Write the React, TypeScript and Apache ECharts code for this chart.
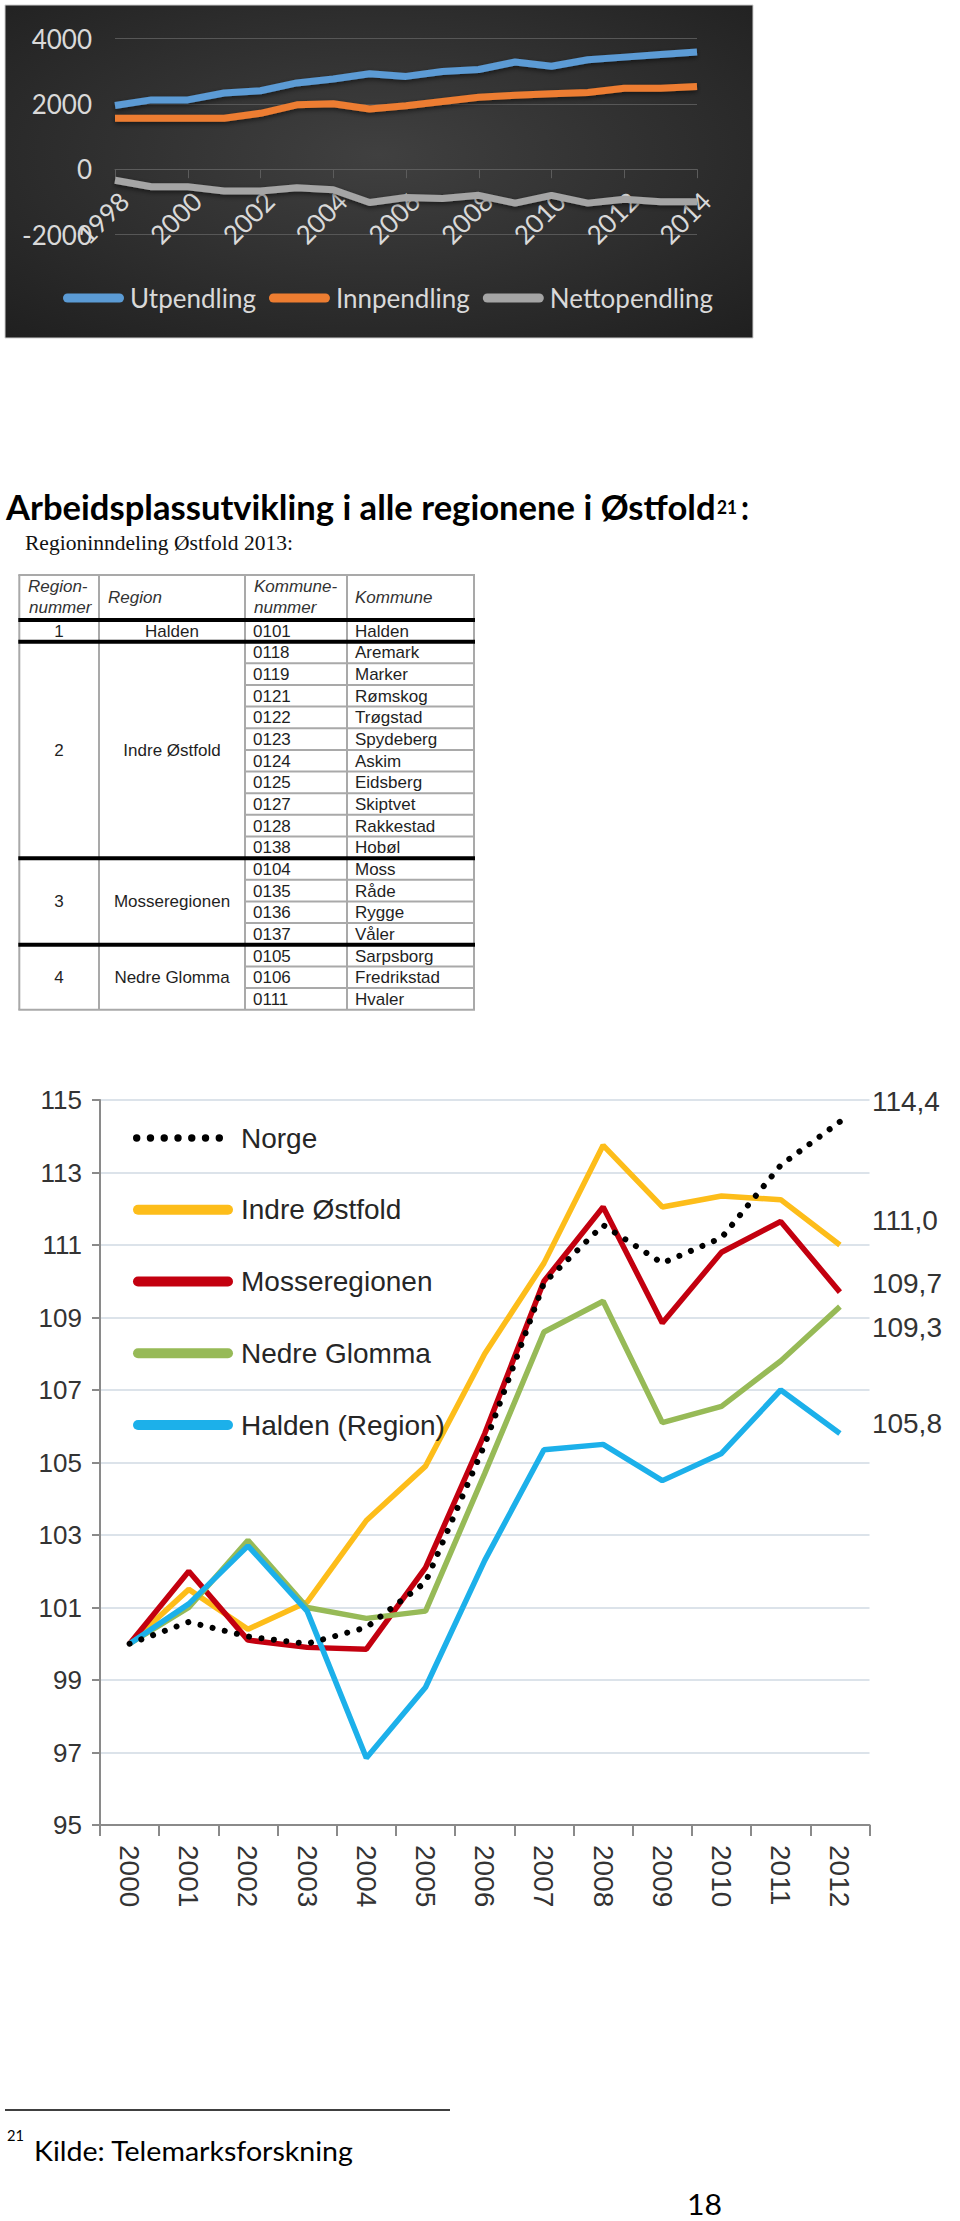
import React, { useEffect, useRef } from 'react';
import * as echarts from 'echarts';

// ---------- Data: commuting chart (top) ----------
const commuteYears = ['1998', '1999', '2000', '2001', '2002', '2003', '2004', '2005', '2006', '2007', '2008', '2009', '2010', '2011', '2012', '2013', '2014'];
const utpendling = [1950, 2120, 2120, 2330, 2400, 2640, 2760, 2920, 2840, 2990, 3050, 3280, 3150, 3350, 3430, 3510, 3590];
const innpendling = [1560, 1560, 1560, 1560, 1710, 1970, 2000, 1840, 1940, 2070, 2200, 2260, 2310, 2350, 2480, 2480, 2530];
const nettopendling = [-340, -540, -540, -670, -670, -570, -630, -1020, -870, -900, -800, -1040, -800, -1040, -920, -1000, -1000];

// ---------- Data: region table ----------
const tableHeaders = [['Region-', 'nummer'], ['Region'], ['Kommune-', 'nummer'], ['Kommune']];
const regionNumbers = ['1', '2', '3', '4'];
const regionNames = ['Halden', 'Indre Østfold', 'Mosseregionen', 'Nedre Glomma'];
const municipalities: string[][][] = [
  [['0101', 'Halden']],
  [['0118', 'Aremark'], ['0119', 'Marker'], ['0121', 'Rømskog'], ['0122', 'Trøgstad'], ['0123', 'Spydeberg'], ['0124', 'Askim'], ['0125', 'Eidsberg'], ['0127', 'Skiptvet'], ['0128', 'Rakkestad'], ['0138', 'Hobøl']],
  [['0104', 'Moss'], ['0135', 'Råde'], ['0136', 'Rygge'], ['0137', 'Våler']],
  [['0105', 'Sarpsborg'], ['0106', 'Fredrikstad'], ['0111', 'Hvaler']],
];

// ---------- Data: job index chart (bottom) ----------
const indexYears = ['2000', '2001', '2002', '2003', '2004', '2005', '2006', '2007', '2008', '2009', '2010', '2011', '2012'];
const norge = [100, 100.6, 100.2, 100.0, 100.45, 101.7, 105.5, 109.95, 111.55, 110.5, 111.2, 113.2, 114.4];
const indreOstfold = [100, 101.5, 100.4, 101.15, 103.4, 104.9, 108.0, 110.5, 113.75, 112.05, 112.35, 112.25, 111.0];
const mosseregionen = [100, 102.0, 100.1, 99.9, 99.85, 102.1, 105.8, 110.0, 112.05, 108.85, 110.8, 111.65, 109.7];
const nedreGlomma = [100, 101.0, 102.85, 101.0, 100.7, 100.9, 104.7, 108.6, 109.45, 106.1, 106.55, 107.8, 109.3];
const halden = [100, 101.1, 102.7, 100.9, 96.85, 98.8, 102.3, 105.35, 105.5, 104.5, 105.25, 107.0, 105.8];

// ---------- helpers ----------
function textWidth(text: string, font: string): number {
  const ctx = document.createElement('canvas').getContext('2d');
  if (!ctx) return text.length * 10;
  ctx.font = font;
  return ctx.measureText(text).width || 1;
}

function fitText(text: string, x: number, y: number, size: number, family: string, weight: string, target: number, fill: string, style: string = 'normal') {
  const w = textWidth(text, `${style} ${weight} ${size}px "${family}"`);
  return {
    type: 'text', x, y, scaleX: target / w,
    style: { text, fontSize: size, fontFamily: family, fontWeight: weight, fontStyle: style, fill, textAlign: 'left', textVerticalAlign: 'middle' },
  };
}

function capsule(w: number, h: number) {
  const r = h / 2;
  return `path://M${r},0 L${w - r},0 A${r},${r} 0 0 1 ${w - r},${h} L${r},${h} A${r},${r} 0 0 1 ${r},0 Z`;
}

function dotsIcon() {
  let d = 'path://M0,0 L0,0 ';
  const r = 3.7;
  for (let i = 0; i < 7; i++) {
    const cx = r + i * ((90 - 2 * r) / 6);
    d += `M${cx - r},5 A${r},${r} 0 1 0 ${cx + r},5 A${r},${r} 0 1 0 ${cx - r},5 Z `;
  }
  d += 'M100,10 L100,10';
  return d;
}

const fmt = (v: number) => v.toFixed(1).replace('.', ',');

function buildTable(): any[] {
  const els: any[] = [];
  const colX = [19.3, 99, 245, 347, 474];
  const top = 575;
  const headH = 45;
  const rowH = 21.65;
  const grey = '#a9a9a9';
  const txt = '#1f1f1f';
  const font = 'Liberation Sans';
  const textEl = (text: string, x: number, y: number, align: string, italic = false) => ({
    type: 'text', x, y, z: 5,
    style: { text, fontSize: 17, fontFamily: font, fontStyle: italic ? 'italic' : 'normal', fill: italic ? '#333' : txt, textAlign: align, textVerticalAlign: 'middle' },
  });
  const line = (x1: number, y1: number, x2: number, y2: number, stroke: string, w: number, z = 3) => ({
    type: 'line', z, shape: { x1, y1, x2, y2 }, style: { stroke, lineWidth: w },
  });

  const headX = [28, 108, 254, 355];
  tableHeaders.forEach((lines, i) => {
    if (lines.length === 2) {
      els.push(textEl(lines[0], headX[i], top + 11.5, 'left', true));
      els.push(textEl(lines[1], headX[i] + (i === 0 ? 1 : 0), top + 32.5, 'left', true));
    } else {
      els.push(textEl(lines[0], headX[i], top + 22, 'left', true));
    }
  });

  let y = top + headH;
  const thick: number[] = [y];
  regionNames.forEach((name, gi) => {
    const rows = municipalities[gi];
    const gTop = y;
    rows.forEach((r, j) => {
      const rTop = gTop + j * rowH;
      const cy = rTop + rowH / 2 + 0.5;
      els.push(textEl(r[0], 253, cy, 'left'));
      els.push(textEl(r[1], 355, cy, 'left'));
      if (j > 0) els.push(line(colX[2], rTop, colX[4], rTop, grey, 2));
    });
    const gBottom = gTop + rows.length * rowH;
    const mid = (gTop + gBottom) / 2 + 0.5;
    els.push(textEl(regionNumbers[gi], 59, mid, 'center'));
    els.push(textEl(name, 172, mid, 'center'));
    if (gi < regionNames.length - 1) thick.push(gBottom);
    y = gBottom;
  });
  const bottom = y;
  colX.forEach((x) => els.push(line(x, top, x, bottom, grey, 2)));
  els.push(line(colX[0] - 1, top, colX[4] + 1, top, grey, 2));
  els.push(line(colX[0] - 1, bottom, colX[4] + 1, bottom, grey, 2));
  thick.forEach((ty) => els.push(line(colX[0] - 1, ty, colX[4] + 1, ty, '#000', 4, 4)));
  return els;
}

export default function App() {
  const ref = useRef<HTMLDivElement>(null);

  useEffect(() => {
    if (!ref.current) return;
    const chart = echarts.init(ref.current, null, { renderer: 'svg' });

    const darkText = '#d9d9d9';
    const lato = 'Lato';
    const arial = 'Liberation Sans';

    const graphics: any[] = [
      {
        type: 'rect', z: -10, shape: { x: 5, y: 5, width: 748, height: 333 },
        style: {
          fill: { type: 'radial', x: 0.5, y: 0.45, r: 0.75, colorStops: [{ offset: 0, color: '#404040' }, { offset: 1, color: '#1f1f1f' }] },
          stroke: '#cfcfcf', lineWidth: 1,
        },
      },
      fitText('Arbeidsplassutvikling i alle regionene i Østfold', 6, 507, 34, lato, 'bold', 710, '#000'),
      fitText('21', 717, 507, 18, lato, 'bold', 20, '#000'),
      fitText(':', 741, 507, 34, lato, 'bold', 8, '#000'),
      fitText('Regioninndeling Østfold 2013:', 25, 543, 21, 'Liberation Serif', 'normal', 268, '#111'),
      { type: 'line', shape: { x1: 5, y1: 2110, x2: 450, y2: 2110 }, style: { stroke: '#000', lineWidth: 1.5 } },
      fitText('21', 7, 2135, 16, lato, 'normal', 17, '#000'),
      fitText('Kilde: Telemarksforskning', 34, 2151, 26, lato, 'normal', 320, '#000'),
      fitText('18', 687, 2204, 28, lato, 'normal', 35, '#000'),
      ...buildTable(),
    ];

    const indexSeries = [
      { name: 'Indre Østfold', data: indreOstfold, color: '#fdbd1a', dy: -25 },
      { name: 'Mosseregionen', data: mosseregionen, color: '#c3000f', dy: -9 },
      { name: 'Nedre Glomma', data: nedreGlomma, color: '#97ba57', dy: 21 },
      { name: 'Halden (Region)', data: halden, color: '#1cb0ea', dy: -10 },
    ];

    const option: any = {
      animation: false,
      grid: [
        { left: 115, top: 38.5, width: 582, height: 196, containLabel: false },
        { left: 100, top: 1100, width: 769.5, height: 725, containLabel: false },
      ],
      xAxis: [
        {
          gridIndex: 0, type: 'category', data: commuteYears, boundaryGap: false,
          offset: -65.3,
          axisLine: { show: true, onZero: false, lineStyle: { color: '#5c5c5c', width: 1 } },
          axisTick: { show: true, interval: 1, length: 9, lineStyle: { color: '#5c5c5c' } },
          axisLabel: { interval: 1, rotate: 45, margin: 18, color: darkText, fontFamily: lato, fontSize: 26, verticalAlign: 'top' },
          splitLine: { show: false },
        },
        {
          gridIndex: 1, type: 'category', data: indexYears, boundaryGap: true,
          axisLine: { show: true, lineStyle: { color: '#8a8a8a', width: 2 } },
          axisTick: { show: true, length: 11, lineStyle: { color: '#8a8a8a', width: 2 } },
          axisLabel: { interval: 0, rotate: -90, margin: 20, color: '#333', fontFamily: arial, fontSize: 28 },
          splitLine: { show: false },
        },
      ],
      yAxis: [
        {
          gridIndex: 0, type: 'value', min: -2000, max: 4000, interval: 2000,
          axisLine: { show: false }, axisTick: { show: false },
          axisLabel: { color: darkText, fontFamily: lato, fontSize: 26, margin: 23, formatter: (v: number) => String(v) },
          splitLine: { show: true, lineStyle: { color: '#575757', width: 1 } },
        },
        {
          gridIndex: 1, type: 'value', min: 95, max: 115, interval: 2,
          axisLine: { show: true, lineStyle: { color: '#8a8a8a', width: 2 } },
          axisTick: { show: true, length: 8, lineStyle: { color: '#8a8a8a', width: 2 } },
          axisLabel: { color: '#333', fontFamily: arial, fontSize: 26, margin: 18 },
          splitLine: { show: true, lineStyle: { color: '#dce3ea', width: 2 } },
        },
      ],
      legend: [
        {
          left: 58, top: 278, orient: 'horizontal', itemWidth: 61, itemHeight: 9, itemGap: 13,
          selectedMode: false, itemStyle: { borderWidth: 0 },
          textStyle: { color: darkText, fontFamily: lato, fontSize: 26, lineHeight: 30, padding: [0, 0, 0, 1] },
          data: [
            { name: 'Utpendling', icon: capsule(61, 9) },
            { name: 'Innpendling', icon: capsule(61, 9) },
            { name: 'Nettopendling', icon: capsule(61, 9) },
          ],
        },
        {
          left: 128, top: 1118, orient: 'vertical', itemWidth: 100, itemHeight: 10, itemGap: 41.75,
          selectedMode: false, itemStyle: { borderWidth: 0 },
          textStyle: { color: '#262626', fontFamily: arial, fontSize: 28, lineHeight: 30, padding: [0, 0, 0, 3] },
          data: [
            { name: 'Norge', icon: dotsIcon() },
            ...indexSeries.map((s) => ({ name: s.name, icon: capsule(100, 10) })),
          ],
        },
      ],
      series: [
        ...[
          { name: 'Utpendling', data: utpendling, color: '#5b9bd5' },
          { name: 'Innpendling', data: innpendling, color: '#ed7d31' },
          { name: 'Nettopendling', data: nettopendling, color: '#a5a5a5' },
        ].map((s) => ({
          name: s.name, type: 'line', xAxisIndex: 0, yAxisIndex: 0, data: s.data,
          symbol: 'none', showSymbol: false, color: s.color,
          lineStyle: { color: s.color, width: 7, shadowColor: 'rgba(0,0,0,0.55)', shadowBlur: 5, shadowOffsetY: 2 },
        })),
        ...indexSeries.map((s) => ({
          name: s.name, type: 'line', xAxisIndex: 1, yAxisIndex: 1, data: s.data,
          symbol: 'none', showSymbol: false, color: s.color, z: 2,
          lineStyle: { color: s.color, width: 5.5 },
          endLabel: {
            show: true, formatter: (p: any) => fmt(p.value), distance: 32, offset: [0, s.dy],
            color: '#333', fontFamily: arial, fontSize: 28, align: 'left', verticalAlign: 'middle',
          },
        })),
        {
          name: 'Norge', type: 'line', xAxisIndex: 1, yAxisIndex: 1, data: norge,
          symbol: 'none', showSymbol: false, color: '#000', z: 3,
          lineStyle: { color: '#000', width: 6, type: [0.01, 12.5], cap: 'round' },
          endLabel: {
            show: true, formatter: (p: any) => fmt(p.value), distance: 32, offset: [0, -20],
            color: '#333', fontFamily: arial, fontSize: 28, align: 'left', verticalAlign: 'middle',
          },
        },
      ],
      graphic: graphics,
    };

    chart.setOption(option);
    return () => chart.dispose();
  }, []);

  return <div ref={ref} style={{ position: 'absolute', left: 0, top: 0, width: 960, height: 2221 }} />;
}
